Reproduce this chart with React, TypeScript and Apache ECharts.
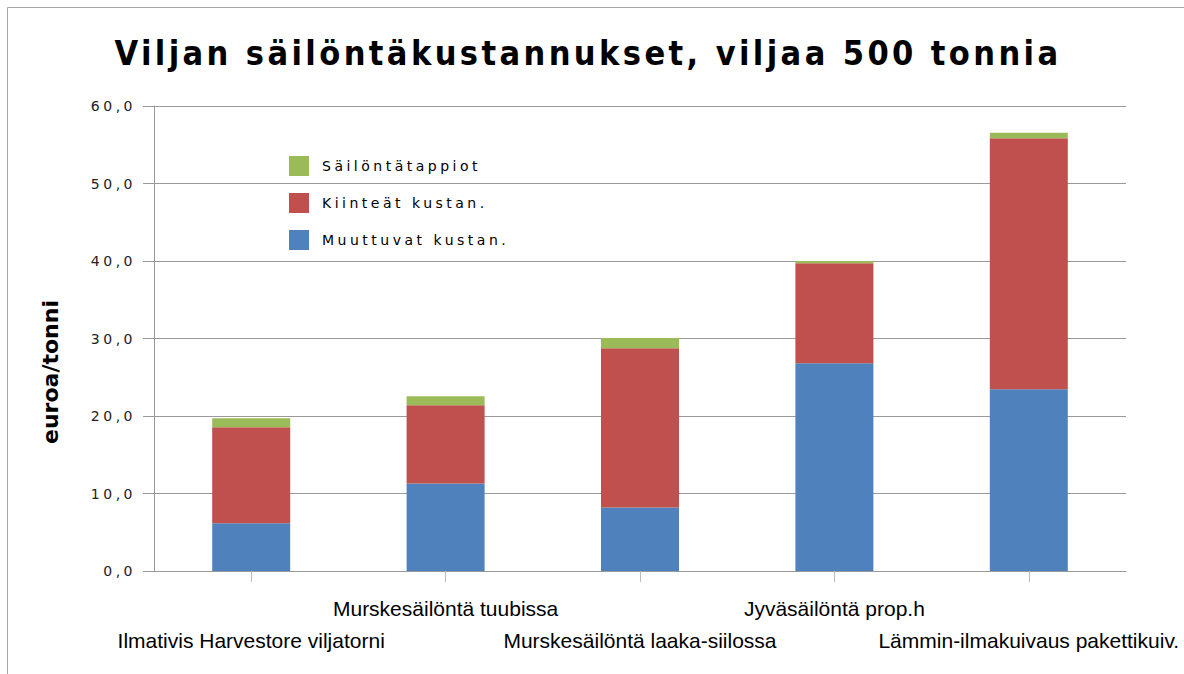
import React, { useEffect, useRef } from "react";
import * as echarts from "echarts";

const categories = [
  "Ilmativis Harvestore viljatorni",
  "Murskesäilöntä tuubissa",
  "Murskesäilöntä laaka-siilossa",
  "Jyväsäilöntä prop.h",
  "Lämmin-ilmakuivaus pakettikuiv.",
];
const muuttuvat = [6.15, 11.3, 8.2, 26.8, 23.45];
const kiinteat = [12.4, 10.1, 20.55, 12.9, 32.4];
const tappiot = [1.15, 1.15, 1.3, 0.3, 0.7];
const seriesNames = ["Muuttuvat kustan.", "Kiinteät kustan.", "Säilöntätappiot"];
const legendOrder = ["Säilöntätappiot", "Kiinteät kustan.", "Muuttuvat kustan."];
const title = "Viljan säilöntäkustannukset, viljaa 500 tonnia";
const yName = "euroa/tonni";

const SPACED = "Verdana, 'DejaVu Sans', sans-serif";
const TITLEF = "Tahoma, 'DejaVu Sans Condensed', sans-serif";
const CATF = "'Liberation Sans', Arial, sans-serif";
const YNAMEF = "'Gill Sans', 'DejaVu Sans', sans-serif";

const css = `
text[style*="Verdana"] { letter-spacing: 3.5px; }
text[style*="Tahoma"] { letter-spacing: 3.4px; }
`;

export default function App() {
  const ref = useRef<HTMLDivElement>(null);
  useEffect(() => {
    if (!ref.current) return;
    const chart = echarts.init(ref.current, null, { renderer: "svg" });
    const colors = ["#4F81BD", "#C0504D", "#9BBB59"];
    const data = [muuttuvat, kiinteat, tappiot];
    chart.setOption({
      animation: false,
      backgroundColor: "#ffffff",
      grid: { left: 154, right: 58, top: 106, bottom: 103, containLabel: false },
      legend: {
        orient: "vertical",
        left: 284,
        top: 151,
        itemWidth: 20,
        itemHeight: 20,
        itemGap: 17,
        icon: "rect",
        data: legendOrder,
        textStyle: {
          fontFamily: SPACED,
          fontSize: 14,
          color: "#000",
          verticalAlign: "top",
          padding: [0, 0, 0, 8],
        },
      },
      xAxis: {
        type: "category",
        data: categories,
        axisLine: { show: true, lineStyle: { color: "#999", width: 1 } },
        axisTick: { show: true, alignWithLabel: true, length: 11, lineStyle: { color: "#bbb" } },
        axisLabel: {
          interval: 0,
          hideOverlap: false,
          margin: 21,
          fontFamily: CATF,
          fontSize: 21,
          lineHeight: 32,
          color: "#000",
          formatter: (v: string, i: number) => (i % 2 === 0 ? "\n" + v : v),
        },
      },
      yAxis: {
        type: "value",
        min: 0,
        max: 60,
        interval: 10,
        axisLine: { show: true, lineStyle: { color: "#999" } },
        axisTick: { show: true, length: 11, lineStyle: { color: "#999" } },
        splitLine: { show: true, lineStyle: { color: "#9a9a9a", width: 1 } },
        axisLabel: {
          margin: 18,
          fontFamily: SPACED,
          fontSize: 14,
          color: "#222",
          formatter: (v: number) => v.toFixed(1).replace(".", ","),
        },
      },
      series: seriesNames.map((name, k) => ({
        name,
        type: "bar",
        stack: "total",
        barWidth: 78,
        itemStyle: { color: colors[k] },
        data: data[k],
      })),
      graphic: [
        {
          type: "rect",
          shape: { x: 7.5, y: 7.5, width: 1200, height: 700 },
          style: { fill: "none", stroke: "#a6a6a6", lineWidth: 1 },
          silent: true,
        },
        {
          type: "text",
          x: 588,
          y: 53,
          style: {
            text: title,
            fontFamily: TITLEF,
            fontWeight: "bold",
            fontSize: 34,
            fill: "#000",
            textAlign: "center",
            textVerticalAlign: "middle",
          },
        },
        {
          type: "text",
          x: 50,
          y: 372,
          rotation: Math.PI / 2,
          style: {
            text: yName,
            fontFamily: YNAMEF,
            fontWeight: "bold",
            fontSize: 22,
            fill: "#000",
            textAlign: "center",
            textVerticalAlign: "middle",
          },
        },
      ],
    });
    return () => chart.dispose();
  }, []);
  return (
    <>
      <style>{css}</style>
      <div
        ref={ref}
        style={{ position: "fixed", left: 0, top: 0, width: 1184, height: 674 }}
      />
    </>
  );
}
